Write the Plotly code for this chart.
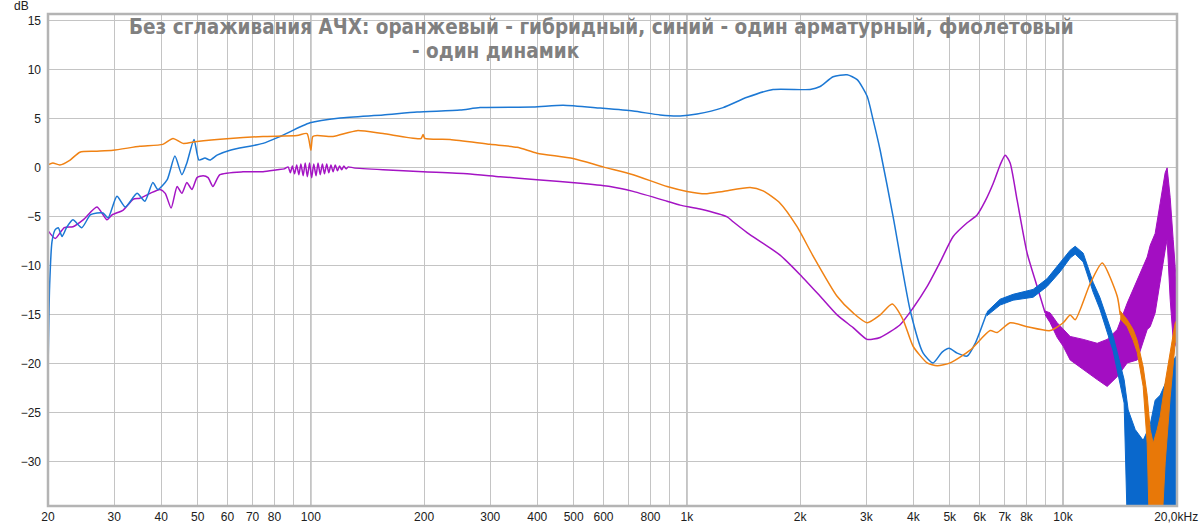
import math
import plotly.graph_objects as go

# ---------------- data (Hz, dB) ----------------
# Orange: hybrid
orange_f = [20, 20.6, 21.5, 22.9, 24.3, 26.7, 29.8, 35.1, 40.4, 43.0,
            45.7, 49.8, 61.0, 74.6, 91.9, 97.7, 100, 101.2, 103.9, 114.5,
            132.7, 155.6, 196.4, 198.8, 201, 234.6, 299.6, 353.5, 399.5, 498.1,
            598.4, 719.3, 885.6, 1001, 1118, 1248, 1472, 1594, 1769, 1963,
            2166, 2508, 2767, 3015, 3265, 3513, 3757, 3994, 4354, 4628,
            5012, 5665, 6403, 6683, 7236, 8029, 9245, 10012, 10450, 10776,
            11813, 12717, 13939, 14198]
orange_db = [0.3, 0.5, 0.3, 0.8, 1.6, 1.7, 1.8, 2.2, 2.4, 3.0,
             2.5, 2.7, 3.0, 3.2, 3.3, 3.5, 1.8, 3.2, 3.3, 3.2,
             3.8, 3.5, 3.0, 3.4, 3.0, 2.9, 2.4, 2.1, 1.5, 0.95,
             0.1, -0.7, -1.9, -2.4, -2.65, -2.4, -2.0, -2.35, -3.6, -6.0,
             -9.0, -13.1, -14.8, -15.8, -15.0, -13.9, -15.5, -18.2, -19.9, -20.2,
             -19.9, -18.6, -16.6, -16.8, -15.8, -16.2, -16.6, -15.8, -15.0, -15.5,
             -11.8, -9.7, -13.1, -15.0]
orange_band_f = [14198, 14818, 15370, 15752, 16339, 16746, 17057, 17370, 17803, 18130,
                 18694, 19275, 19874, 20120]
orange_band_hi = [-14.6, -15.5, -16.5, -17.6, -20.3, -23.2, -26.7, -28.1, -26.7, -25.4,
                  -21.9, -18.6, -15.8, -15.5]
orange_band_lo = [-15.4, -16.2, -17.6, -18.8, -22.3, -28.1, -40, -40, -40, -40,
                  -30.1, -23.4, -17.9, -17.6]

# Blue: single balanced armature
blue_f = [20, 20.2, 20.5, 20.9, 21.3, 21.8, 22.4, 23.3, 24.6, 25.9,
          27.0, 28.0, 28.9, 30.5, 32.1, 34.5, 36.2, 38.0, 39.2, 41.5,
          43.5, 45.4, 46.8, 48.9, 50.4, 52.3, 53.9, 56.3, 61.0, 74.6,
          82.8, 99.5, 119.6, 155.6, 191.6, 249.3, 281.8, 389.9, 468.5, 587.6,
          719.3, 848.5, 959.2, 1064, 1248, 1445, 1695, 2126, 2261, 2448,
          2667, 2836, 3015, 3127, 3265, 3535, 3922, 4248, 4515, 4772,
          4982, 5231, 5562, 5842, 6272]
blue_db = [-20.8, -12, -7.5, -6.3, -6.1, -7.0, -6.1, -5.3, -6.1, -4.8,
           -4.6, -4.6, -5.1, -2.9, -4.0, -2.6, -3.4, -1.5, -2.2, -1.2,
           1.2, -0.7, 0.5, 2.9, 0.8, 1.0, 0.8, 1.3, 1.8, 2.5,
           3.2, 4.6, 5.1, 5.4, 5.7, 5.9, 6.15, 6.2, 6.4, 6.1,
           5.8, 5.4, 5.3, 5.5, 6.15, 7.2, 8.0, 8.0, 8.3, 9.3,
           9.5, 9.0, 7.3, 4.9, 1.8, -5.0, -14.5, -18.9, -19.9, -18.8,
           -18.4, -18.9, -19.2, -17.9, -14.8]
blue_band_f = [6272, 6805, 7370, 8330, 9077, 9829, 10450, 10776, 11317, 12032,
               12530, 13600, 14540, 14907, 15560, 16339, 17057, 17583, 18130, 18923,
               19634, 20120]
blue_band_hi = [-14.7, -13.4, -12.9, -12.4, -11.3, -9.7, -8.4, -8.0, -8.7, -11.7,
                -13.2, -17.2, -21.6, -24.7, -26.7, -27.8, -26.2, -23.7, -23.2, -21.6,
                -19.6, -19.1]
blue_band_lo = [-15.1, -14.0, -13.5, -13.2, -12.1, -10.6, -9.2, -8.8, -9.6, -12.7,
                -14.4, -18.7, -24.0, -40, -40, -40, -40, -40, -40, -40,
                -40, -40]

# Purple: single dynamic driver
purple_f = [20, 20.9, 22.1, 23.3, 24.8, 27.0, 28.7, 29.6, 31.7, 33.7,
            35.1, 37.4, 39.7, 41.0, 42.5, 44.1, 45.4, 46.8, 48.3, 49.8,
            51.7, 53.3, 54.9, 57.3, 66.0, 74.6, 81.3, 85.0,
            87.0, 88.2, 89.3, 90.5, 91.7, 92.9, 94.1, 95.4, 96.6, 97.9,
            99.2, 100.5, 101.8, 103.2, 104.5, 105.9, 107.3, 108.7, 110.2, 111.6,
            113.1, 114.6, 116.1, 117.7, 119.2, 120.8, 122.4, 124.0, 125.7,
            130, 155.6, 198.8, 260.3, 318.6, 399.5, 529.6, 624.8, 719.3, 885.6,
            959.2, 1084, 1279, 1327, 1445, 1769, 2000, 2261, 2508, 2767,
            3015, 3265, 3690, 3994, 4354, 4716, 5105, 5562, 5911, 6209,
            6522, 6805, 7020, 7236, 7553, 8029, 8536, 8967]
purple_db = [-6.4, -7.2, -6.1, -6.0, -5.3, -4.0, -5.3, -4.8, -4.3, -3.2,
             -3.1, -2.6, -2.2, -2.6, -4.1, -1.9, -2.6, -1.5, -2.2, -1.0,
             -0.8, -1.0, -1.9, -0.7, -0.4, -0.4, -0.2, -0.1,
             0.1, -0.5, 0.2, -0.6, 0.3, -0.7, 0.4, -0.8, 0.5, -0.9,
             0.5, -1.0, 0.4, -0.8, 0.5, -0.7, 0.4, -0.6, 0.4, -0.5,
             0.3, -0.4, 0.3, -0.3, 0.2, -0.2, 0.2, -0.1, 0.1,
             0.0, -0.2, -0.4, -0.6, -0.9, -1.2, -1.6, -1.9, -2.4, -3.4,
             -3.8, -4.2, -5.0, -5.5, -6.6, -8.9, -10.9, -13.1, -15.0, -16.3,
             -17.5, -17.3, -16.0, -14.3, -12.1, -9.6, -7.0, -5.6, -4.8, -3.4,
             -1.6, 0.3, 1.3, 0.5, -3.3, -8.7, -12.1, -14.8]
purple_band_f = [8967, 9245, 9650, 10012, 10450, 11317, 12330, 13108, 13939, 14818,
                 15752, 16746, 17057, 17583, 18130, 18694, 18923, 19275, 19634, 19998,
                 20120]
purple_band_hi = [-14.6, -14.8, -15.8, -16.5, -17.2, -17.5, -17.9, -17.5, -16.5, -13.8,
                  -11.4, -9.1, -7.9, -6.7, -3.6, -0.5, 0.0, -3.0, -7.3, -11.4,
                  -15.5]
purple_band_lo = [-15.0, -15.8, -17.3, -18.2, -19.6, -20.6, -21.6, -22.3, -21.3, -19.9,
                  -19.6, -16.5, -16.2, -14.8, -11.4, -8.4, -7.3, -13.4, -17.5, -18.2,
                  -18.6]

x_tickvals = [20, 30, 40, 50, 60, 70, 80, 90, 100, 200, 300, 400, 500, 600, 700, 800, 900,
              1000, 2000, 3000, 4000, 5000, 6000, 7000, 8000, 9000, 10000, 20000]
x_ticktext = ["20", "30", "40", "50", "60", "70", "80", "", "100", "200", "300", "400", "500",
              "600", "", "800", "", "1k", "2k", "3k", "4k", "5k", "6k", "7k", "8k", "", "10k",
              "20,0kHz"]
y_tickvals = [15, 10, 5, 0, -5, -10, -15, -20, -25, -30]

title_line1 = "Без сглаживания АЧХ: оранжевый - гибридный, синий - один арматурный, фиолетовый"
title_line2 = "- один динамик"

ORANGE = "#F08214"
ORANGE_B = "#E87808"
BLUE = "#1C78D4"
BLUE_B = "#0A68CC"
PURPLE = "#A414C4"
PURPLE_B = "#A30EC2"

fig = go.Figure()


def add_line(f, db, color):
    fig.add_trace(go.Scatter(x=f, y=db, mode="lines",
                             line=dict(color=color, width=1.5, shape="spline", smoothing=0.6),
                             hoverinfo="skip", showlegend=False))


def add_band(f, hi, lo, color):
    fig.add_trace(go.Scatter(x=list(f) + list(f)[::-1], y=list(hi) + list(lo)[::-1],
                             mode="lines", fill="toself", fillcolor=color,
                             line=dict(color=color, width=1),
                             hoverinfo="skip", showlegend=False))


add_line(purple_f, purple_db, PURPLE)
add_band(purple_band_f, purple_band_hi, purple_band_lo, PURPLE_B)
add_line(blue_f, blue_db, BLUE)
add_band(blue_band_f, blue_band_hi, blue_band_lo, BLUE_B)
add_line(orange_f, orange_db, ORANGE)
add_band(orange_band_f, orange_band_hi, orange_band_lo, ORANGE_B)

# darker decade lines
for v in [100, 1000, 10000]:
    fig.add_shape(type="line", xref="x", yref="paper", x0=v, x1=v, y0=0, y1=1,
                  line=dict(color="#808080", width=1), layer="below")

fig.add_shape(type="rect", xref="paper", yref="paper", x0=0, x1=1, y0=0, y1=1,
              line=dict(color="#B4B4B4", width=2.5), layer="above")

tick_font = dict(family="Liberation Sans, Arial, sans-serif", size=12, color="#202020")
title_font = dict(family="Liberation Sans Narrow, Arial Narrow, DejaVu Sans Condensed, sans-serif",
                  size=20.5, color="#808080")

fig.add_annotation(text="<b>" + title_line1 + "</b>", xref="paper", yref="paper",
                   x=(601 - 48) / 1129, y=1 - (27 - 14) / 492, xanchor="center", yanchor="middle",
                   showarrow=False, font=title_font)
fig.add_annotation(text="<b>" + title_line2 + "</b>", xref="paper", yref="paper",
                   x=(496 - 48) / 1129, y=1 - (51 - 14) / 492, xanchor="center", yanchor="middle",
                   showarrow=False, font=title_font)
fig.add_annotation(text="dB", xref="paper", yref="paper", x=(21 - 48) / 1129, y=1 + 8 / 492,
                   xanchor="center", yanchor="middle", showarrow=False, font=tick_font)

fig.update_layout(
    width=1200, height=526,
    margin=dict(l=48, r=23, t=14, b=20, autoexpand=False),
    paper_bgcolor="white", plot_bgcolor="white",
    showlegend=False,
    xaxis=dict(type="log", range=[math.log10(20), math.log10(20100)], automargin=False,
               tickvals=x_tickvals, ticktext=x_ticktext, tickfont=tick_font,
               showgrid=True, gridcolor="#C4C4C4", gridwidth=1, zeroline=False,
               showline=False, ticks="", ticklabelstandoff=2),
    yaxis=dict(range=[-34.5, 15.7], tickvals=y_tickvals, tickfont=tick_font, automargin=False,
               showgrid=True, gridcolor="#C4C4C4", gridwidth=1, zeroline=False,
               showline=False, ticks="", ticklabelstandoff=6),
)

fig.write_html("out.html", config={"displayModeBar": False},
               post_script="document.body.style.margin='0';document.body.style.padding='0';")
